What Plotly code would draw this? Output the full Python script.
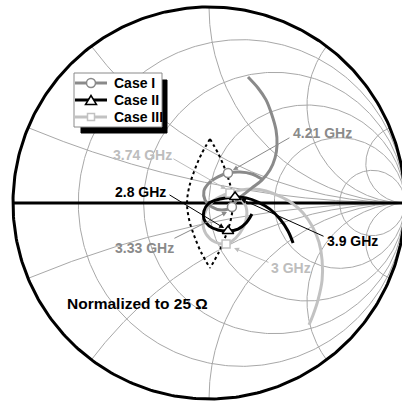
import numpy as np
import plotly.graph_objects as go

case1_re = [0.199, 0.250, 0.291, 0.321, 0.342, 0.347, 0.337, 0.311, 0.270, 0.219, 0.168, 0.138,
            0.117, 0.066, 0.015, -0.020, -0.026, 0.000, 0.046, 0.097, 0.158, 0.219, 0.270]
case1_im = [0.643, 0.587, 0.526, 0.449, 0.372, 0.296, 0.230, 0.168, 0.117, 0.077, 0.036, 0.010,
            -0.020, -0.036, -0.020, 0.015, 0.061, 0.102, 0.133, 0.153, 0.158, 0.148, 0.122]

case2_re = [0.219, 0.189, 0.148, 0.097, 0.046, 0.000, -0.026, -0.026, -0.005, 0.036, 0.087, 0.133,
            0.189, 0.250, 0.311, 0.362, 0.403, 0.429]
case2_im = [-0.056, -0.102, -0.133, -0.143, -0.138, -0.117, -0.082, -0.041, -0.005, 0.015, 0.026, 0.031,
            0.026, 0.005, -0.031, -0.082, -0.143, -0.204]

case3_re = [0.158, 0.189, 0.189, 0.158, 0.112, 0.087, 0.031, -0.015, -0.031, -0.015, 0.026, 0.077,
            0.107, 0.163, 0.224, 0.291, 0.357, 0.423, 0.480, 0.526, 0.561, 0.577, 0.577, 0.556,
            0.531, 0.510]
case3_im = [0.026, -0.020, -0.087, -0.153, -0.199, -0.209, -0.199, -0.158, -0.097, -0.036, 0.015, 0.041,
            0.051, 0.066, 0.071, 0.061, 0.036, 0.000, -0.051, -0.117, -0.199, -0.291, -0.393, -0.495,
            -0.571, -0.622]

# band-edge markers
case1_mk_re = [0.117, 0.097]   # 3.33 GHz, 4.21 GHz
case1_mk_im = [-0.020, 0.153]
case2_mk_re = [0.097, 0.133]   # 2.8 GHz, 3.9 GHz
case2_mk_im = [-0.143, 0.031]
case3_mk_re = [0.087, 0.107]   # 3 GHz, 3.74 GHz
case3_mk_im = [-0.209, 0.051]

# dotted target region (lens)
lens_left_re = [0.005, -0.041, -0.077, -0.102, -0.112, -0.102, -0.077, -0.041, 0.005]
lens_right_re = [0.005, 0.051, 0.087, 0.112, 0.122, 0.112, 0.087, 0.051, 0.005]
lens_im = [0.327, 0.245, 0.158, 0.077, 0.000, -0.082, -0.163, -0.250, -0.332]

# frequency labels
label_text = ["4.21 GHz", "3.74 GHz", "2.8 GHz", "3.33 GHz", "3.9 GHz", "3 GHz"]
label_re = [0.577, -0.337, -0.352, -0.327, 0.730, 0.418]
label_im = [0.357, 0.245, 0.056, -0.230, -0.194, -0.332]
tail_re = [0.418, -0.189, -0.209, -0.184, 0.592, 0.311]
tail_im = [0.337, 0.230, 0.046, -0.184, -0.173, -0.306]
head_re = [0.122, 0.087, 0.077, 0.092, 0.163, 0.128]
head_im = [0.168, 0.071, -0.128, -0.046, 0.020, -0.230]
label_color = ["#8a8a8a", "#bdbdbd", "#000000", "#8a8a8a", "#000000", "#bdbdbd"]

series_names = ["Case I", "Case II", "Case III"]

# Smith chart grid values
r_grid = [0.2, 0.5, 1, 2, 5]
x_grid = [0.2, 0.5, 1, 2, 5]

C1 = "#8a8a8a"
C2 = "#000000"
C3 = "#c2c2c2"
GRID = "#a8a8a8"
FONT = "Liberation Sans, Arial, sans-serif"

fig = go.Figure()

# grid: constant resistance circles
th = np.linspace(0, 2 * np.pi, 400)
for r in r_grid:
    c = r / (1 + r)
    rad = 1 / (1 + r)
    fig.add_trace(go.Scatter(x=c + rad * np.cos(th), y=rad * np.sin(th), mode="lines",
                             line=dict(color=GRID, width=1), hoverinfo="skip", showlegend=False))
# grid: constant reactance arcs
s = np.linspace(0, np.pi / 2 - 1e-4, 600)
for xv in x_grid:
    for sign in (1, -1):
        z = np.tan(s) + 1j * sign * xv
        g = (z - 1) / (z + 1)
        fig.add_trace(go.Scatter(x=g.real, y=g.imag, mode="lines",
                                 line=dict(color=GRID, width=1), hoverinfo="skip", showlegend=False))

# outer circle and real axis
fig.add_trace(go.Scatter(x=np.cos(th), y=np.sin(th), mode="lines",
                         line=dict(color="black", width=3), hoverinfo="skip", showlegend=False))
fig.add_trace(go.Scatter(x=[-1, 1], y=[0, 0], mode="lines",
                         line=dict(color="black", width=3), hoverinfo="skip", showlegend=False))

# lens
for lr in (lens_left_re, lens_right_re):
    fig.add_trace(go.Scatter(x=lr, y=lens_im, mode="lines",
                             line=dict(color="black", width=2, dash="dot", shape="spline"),
                             hoverinfo="skip", showlegend=False))

# curves
fig.add_trace(go.Scatter(x=case3_re, y=case3_im, mode="lines", name=series_names[2],
                         line=dict(color=C3, width=3, shape="spline"), showlegend=False))
fig.add_trace(go.Scatter(x=case1_re, y=case1_im, mode="lines", name=series_names[0],
                         line=dict(color=C1, width=3, shape="spline"), showlegend=False))
fig.add_trace(go.Scatter(x=case2_re, y=case2_im, mode="lines", name=series_names[1],
                         line=dict(color=C2, width=3, shape="spline"), showlegend=False))

# markers
fig.add_trace(go.Scatter(x=case1_mk_re, y=case1_mk_im, mode="markers",
                         marker=dict(symbol="circle", size=9, color="white", line=dict(color=C1, width=1.5)),
                         showlegend=False))
fig.add_trace(go.Scatter(x=case3_mk_re, y=case3_mk_im, mode="markers",
                         marker=dict(symbol="square", size=8, color="white", line=dict(color=C3, width=1.5)),
                         showlegend=False))
fig.add_trace(go.Scatter(x=case2_mk_re, y=case2_mk_im, mode="markers",
                         marker=dict(symbol="triangle-up", size=10, color="white", line=dict(color=C2, width=1.5)),
                         showlegend=False))

annotations = []
for t, lx, ly, tx, ty, hx, hy, col in zip(label_text, label_re, label_im, tail_re, tail_im,
                                          head_re, head_im, label_color):
    annotations.append(dict(x=hx, y=hy, ax=tx, ay=ty, xref="x", yref="y", axref="x", ayref="y",
                            text="", showarrow=True, arrowhead=2, arrowsize=1, arrowwidth=1,
                            arrowcolor=col, standoff=0, startstandoff=0))
    annotations.append(dict(x=lx, y=ly, xref="x", yref="y", text=t, showarrow=False,
                            font=dict(family=FONT, size=14, color=col, weight="bold")))
annotations.append(dict(x=-0.367, y=-0.515, xref="x", yref="y", text="Normalized to 25 Ω",
                        showarrow=False, font=dict(family=FONT, size=15.5, color="black", weight="bold")))

# ---- legend panel (box with drop shadow) built from layout shapes in paper coordinates ----
W = 402.0
def px(v):
    return v / W
def py(v):
    return 1 - v / W

shapes = [
    dict(type="rect", xref="paper", yref="paper", x0=px(81), x1=px(167), y0=py(133), y1=py(80),
         fillcolor="black", line=dict(color="black", width=1), layer="above"),
    dict(type="rect", xref="paper", yref="paper", x0=px(74), x1=px(162), y0=py(127), y1=py(73),
         fillcolor="white", line=dict(color="#8a8a8a", width=1), layer="above"),
]
rows = [83, 100, 117]
cols = [C1, C2, C3]
for yrow, col, name in zip(rows, cols, series_names):
    shapes.append(dict(type="line", xref="paper", yref="paper", x0=px(75), x1=px(107),
                       y0=py(yrow), y1=py(yrow), line=dict(color=col, width=3), layer="above"))
    annotations.append(dict(x=px(112), y=py(yrow), xref="paper", yref="paper", text=name,
                            xanchor="left", yanchor="middle", showarrow=False,
                            font=dict(family=FONT, size=14, color="black", weight="bold")))
# legend symbols
shapes.append(dict(type="circle", xref="paper", yref="paper", x0=px(86.5), x1=px(95.5),
                   y0=py(87.5), y1=py(78.5), fillcolor="white", line=dict(color=C1, width=1.5),
                   layer="above"))
shapes.append(dict(type="path", xref="paper", yref="paper",
                   path="M{},{} L{},{} L{},{} Z".format(px(91), py(95.5), px(85.5), py(104.5),
                                                        px(96.5), py(104.5)),
                   fillcolor="white", line=dict(color=C2, width=1.5), layer="above"))
shapes.append(dict(type="rect", xref="paper", yref="paper", x0=px(87.5), x1=px(94.5),
                   y0=py(120.5), y1=py(113.5), fillcolor="white", line=dict(color=C3, width=1.5),
                   layer="above"))

fig.update_layout(
    width=402, height=402,
    margin=dict(l=0, r=0, t=0, b=0),
    paper_bgcolor="white", plot_bgcolor="white",
    xaxis=dict(range=[-1.0663, 0.9847], visible=False, fixedrange=True),
    yaxis=dict(range=[-1.0153, 1.0357], visible=False, fixedrange=True),
    showlegend=False,
    shapes=shapes,
    annotations=annotations,
)

fig.write_html("out.html", config={"displayModeBar": False},
               post_script="document.body.style.margin='0px';document.body.style.overflow='hidden';")
